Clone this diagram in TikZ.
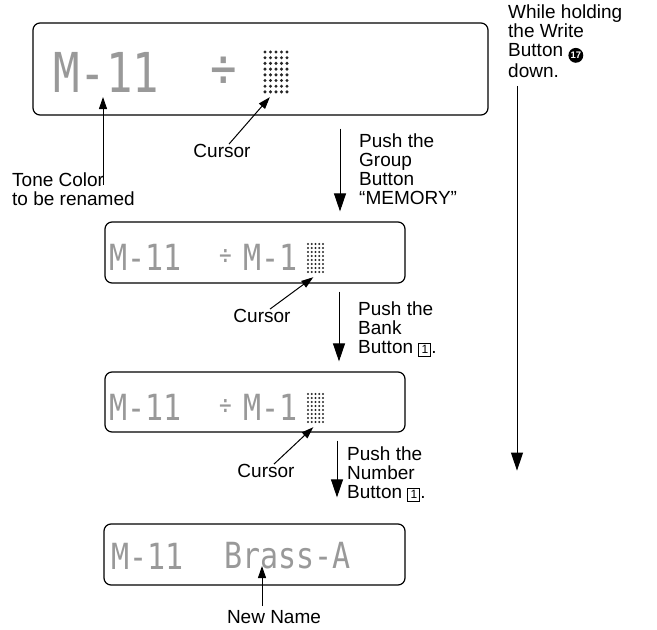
\documentclass[tikz,border=0pt]{standalone}
\usepackage{fontspec}
\setmainfont{Liberation Sans}
\newfontfamily\lcdfont{DejaVu Sans Mono}
\usetikzlibrary{arrows.meta,positioning}

\newcommand\keyone{{\fboxsep=2.2pt\fboxrule=0.9pt\fbox{\fontsize{12}{12}\selectfont 1}}}
\newcommand\writebtn{\tikz[baseline=-0.7ex]\node[circle,fill=black,text=white,inner sep=0.9pt,font=\fontsize{9.5}{9.5}\selectfont\bfseries]{17};}
\newcommand\dotblock[5]{%
  \foreach \i in {0,...,4}
    \foreach \j in {0,...,7}
      \fill[black!85] (#1+\i*#3,#2+\j*#4) circle (#5);}

\begin{document}
\begin{tikzpicture}[x=1pt,y=-1pt,
  lcdbox/.style={draw,line width=1.2pt,rounded corners=7pt,inner sep=0},
  lcdbig/.style={text=black!40,inner sep=0,anchor=west,font=\lcdfont\fontsize{44}{44}\selectfont},
  lcdsmall/.style={text=black!40,inner sep=0,anchor=west,font=\lcdfont\fontsize{30}{30}\selectfont},
  label/.style={inner sep=0,align=left,font=\fontsize{19}{19}\selectfont},
  ptr/.style={-{Triangle[width=8pt,length=12pt]},line width=1pt},
  stepdown/.style={-{Triangle[width=12pt,length=18pt]},line width=1pt}]
  \useasboundingbox (0,0) rectangle (657,630);

  \node[lcdbox,minimum width=455,minimum height=92] (disp1) at (260.5,69) {};
  \node[lcdbig] (d1a) at (53,72) {\scalebox{1}[1.25]{M-11}};
  \node[lcdbig] (d1b) at (210,72) {\scalebox{1}[1.25]{÷}};
  \node[inner sep=0,minimum width=22,minimum height=40] (cur1) at (276,72) {};
  \dotblock{265}{52}{5.5}{5.7}{1.7}

  \node[lcdbox,minimum width=300,minimum height=61] (disp2) at (255,252.5) {};
  \node[lcdsmall] (d2a) at (109,257) {\scalebox{1}[1.2]{M-11}};
  \node[lcdsmall] (d2b) at (219,257) {\scalebox{0.7}[0.9]{÷}};
  \node[lcdsmall] (d2c) at (243,257) {\scalebox{1}[1.2]{M-1}};
  \node[inner sep=0,minimum width=15,minimum height=28] (cur2) at (316,258) {};
  \dotblock{308}{244}{3.75}{4}{1.2}

  \node[lcdbox,minimum width=300,minimum height=60] (disp3) at (255,402) {};
  \node[lcdsmall] (d3a) at (109,407) {\scalebox{1}[1.2]{M-11}};
  \node[lcdsmall] (d3b) at (219,407) {\scalebox{0.7}[0.9]{÷}};
  \node[lcdsmall] (d3c) at (243,407) {\scalebox{1}[1.2]{M-1}};
  \node[inner sep=0,minimum width=15,minimum height=28] (cur3) at (316,408) {};
  \dotblock{308}{394}{3.75}{4}{1.2}

  \node[lcdbox,minimum width=301,minimum height=61] (disp4) at (254.5,554.5) {};
  \node[lcdsmall] (d4a) at (111,556) {\scalebox{1}[1.2]{M-11}};
  \node[lcdsmall] (d4b) at (224,556) {\scalebox{1}[1.2]{Brass-A}};

  \node[label,anchor=north west] (tone) at (12,173) {Tone Color\\to be renamed};
  \node[label] (cursor1) at (222,151) {Cursor};
  \node[label] (cursor2) at (262,316) {Cursor};
  \node[label] (cursor3) at (266,471) {Cursor};
  \node[label] (newname) at (274,617) {New Name};
  \coordinate (tonetip) at (103,97);
  \coordinate (newtip) at (262,566);
  \draw[ptr] ([yshift=-12pt]tone.north -| tonetip) -- (tonetip);
  \draw[ptr] ([xshift=7pt]cursor1.north) -- ([shift={(5,5)}]cur1.south west);
  \draw[ptr] ([xshift=8pt]cursor2.north) -- ([shift={(5,5)}]cur2.south west);
  \draw[ptr] ([xshift=8pt]cursor3.north) -- ([shift={(5,5)}]cur3.south west);
  \draw[ptr] ([yshift=4pt]newname.north -| newtip) -- (newtip);

  \node[label,anchor=north west] (push1) at (359,134) {Push the\\Group\\Button\\``MEMORY''};
  \node[label,anchor=north west] (push2) at (358,302) {Push the\\Bank\\Button \keyone.};
  \node[label,anchor=north west] (push3) at (347,447) {Push the\\Number\\Button \keyone.};
  \node[label,anchor=north west] (hold) at (508,5) {While holding\\the Write\\Button \writebtn\\down.};
  \coordinate (a1) at (340,0);
  \coordinate (a2) at (339,0);
  \coordinate (a3) at (337,0);
  \coordinate (a4) at (517,0);
  \draw[stepdown] ([yshift=-13pt]disp1.south -| a1) -- ([yshift=10pt]disp2.north -| a1);
  \draw[stepdown] ([yshift=-8pt]disp2.south -| a2) -- ([yshift=10pt]disp3.north -| a2);
  \draw[stepdown] ([yshift=-8pt]disp3.south -| a3) -- ([yshift=26pt]disp4.north -| a3);
  \draw[stepdown] ([yshift=-8pt]hold.south -| a4) -- ([yshift=-38pt]disp3.south -| a4);
\end{tikzpicture}
\end{document}
